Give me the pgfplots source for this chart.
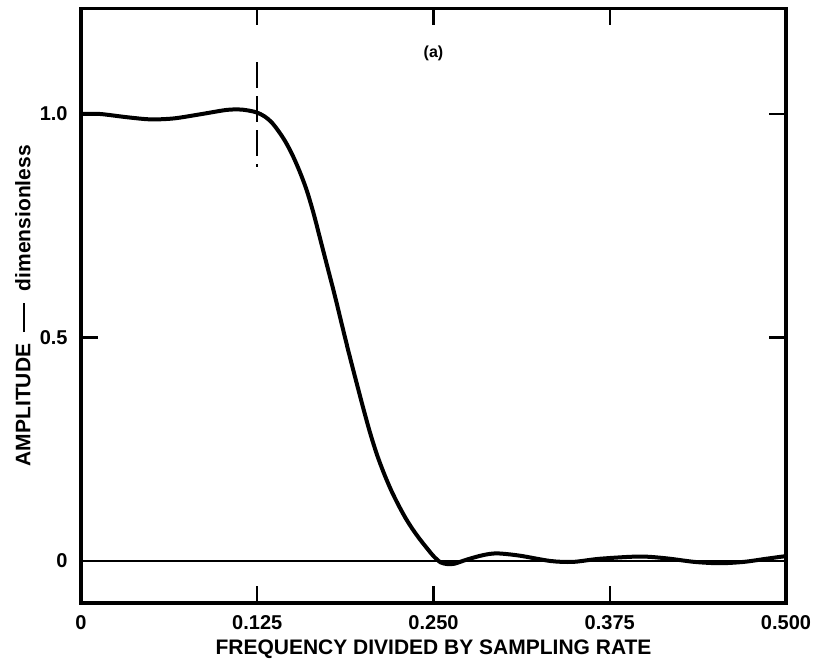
\documentclass[border=0pt]{standalone}
\usepackage{pgfplots}
\pgfplotsset{compat=1.18}
\usepackage{fontspec}
\setmainfont{Liberation Sans}
\begin{document}
\begin{tikzpicture}
\begin{axis}[
  scale only axis,
  width=352.5pt, height=297.25pt,
  xmin=0, xmax=0.5, ymin=-0.094, ymax=1.236,
  xtick={0,0.125,0.25,0.375,0.5},
  xticklabels={0,0.125,0.250,0.375,0.500},
  ytick={0,0.5,1},
  yticklabels={0,0.5,1.0},
  tick align=inside,
  major tick length=8.5pt,
  every tick/.style={black, line width=1.1pt},
  axis line style={line width=1.9pt},
  xticklabel style={font=\bfseries\fontsize{10}{10}\selectfont, anchor=north, inner sep=0pt, yshift=-6pt},
  yticklabel style={font=\bfseries\fontsize{10}{10}\selectfont, anchor=east, inner sep=0pt, xshift=-6.5pt},
  xlabel={FREQUENCY DIVIDED BY SAMPLING RATE},
  ylabel={AMPLITUDE\ \ \rule[0.28em]{1.4em}{0.9pt}\ \ dimensionless},
  every axis x label/.style={at={(axis description cs:0.5,-0.0774)}, anchor=center, font=\bfseries\fontsize{10.5}{10.5}\selectfont},
  every axis y label/.style={at={(axis description cs:-0.0823,0.5)}, anchor=center, rotate=90, font=\bfseries\fontsize{10.5}{10.5}\selectfont},
  clip=false,
]
\addplot[black, line width=0.8pt] coordinates {(0,0) (0.5,0)};
\addplot[black, line width=1pt, dash pattern=on 13pt off 4pt] coordinates {(0.125,1.116) (0.125,0.881)};
\addplot[black, line width=2pt, smooth] coordinates {
(0,1.000) (0.0135,1.000) (0.032,0.993) (0.049,0.988) (0.0655,0.990) (0.084,0.999)
(0.103,1.009) (0.113,1.010) (0.120,1.007) (0.125,1.003) (0.130,0.995) (0.135,0.982)
(0.140,0.962) (0.145,0.938) (0.150,0.908) (0.155,0.872) (0.160,0.830) (0.165,0.777)
(0.170,0.716) (0.175,0.655) (0.180,0.594) (0.185,0.529) (0.190,0.465) (0.195,0.404)
(0.200,0.344) (0.205,0.287) (0.210,0.237) (0.215,0.195) (0.220,0.158) (0.225,0.126)
(0.230,0.097) (0.235,0.072) (0.240,0.050) (0.245,0.030) (0.250,0.011) (0.255,-0.003)
(0.260,-0.007) (0.265,-0.006) (0.2735,0.003) (0.285,0.013) (0.295,0.017) (0.311,0.012)
(0.333,0.000) (0.349,-0.002) (0.368,0.005) (0.396,0.010) (0.415,0.006) (0.435,-0.002)
(0.453,-0.005) (0.470,-0.002) (0.486,0.005) (0.500,0.011)
};
\node[font=\bfseries\fontsize{8}{8}\selectfont] at (axis cs:0.25,1.135) {(a)};
\end{axis}
\pgfresetboundingbox
\path[use as bounding box] (current axis.south west) ++(-40.5pt,-30.5pt) rectangle ([xshift=14pt,yshift=4.25pt]current axis.north east);
\end{tikzpicture}
\end{document}
